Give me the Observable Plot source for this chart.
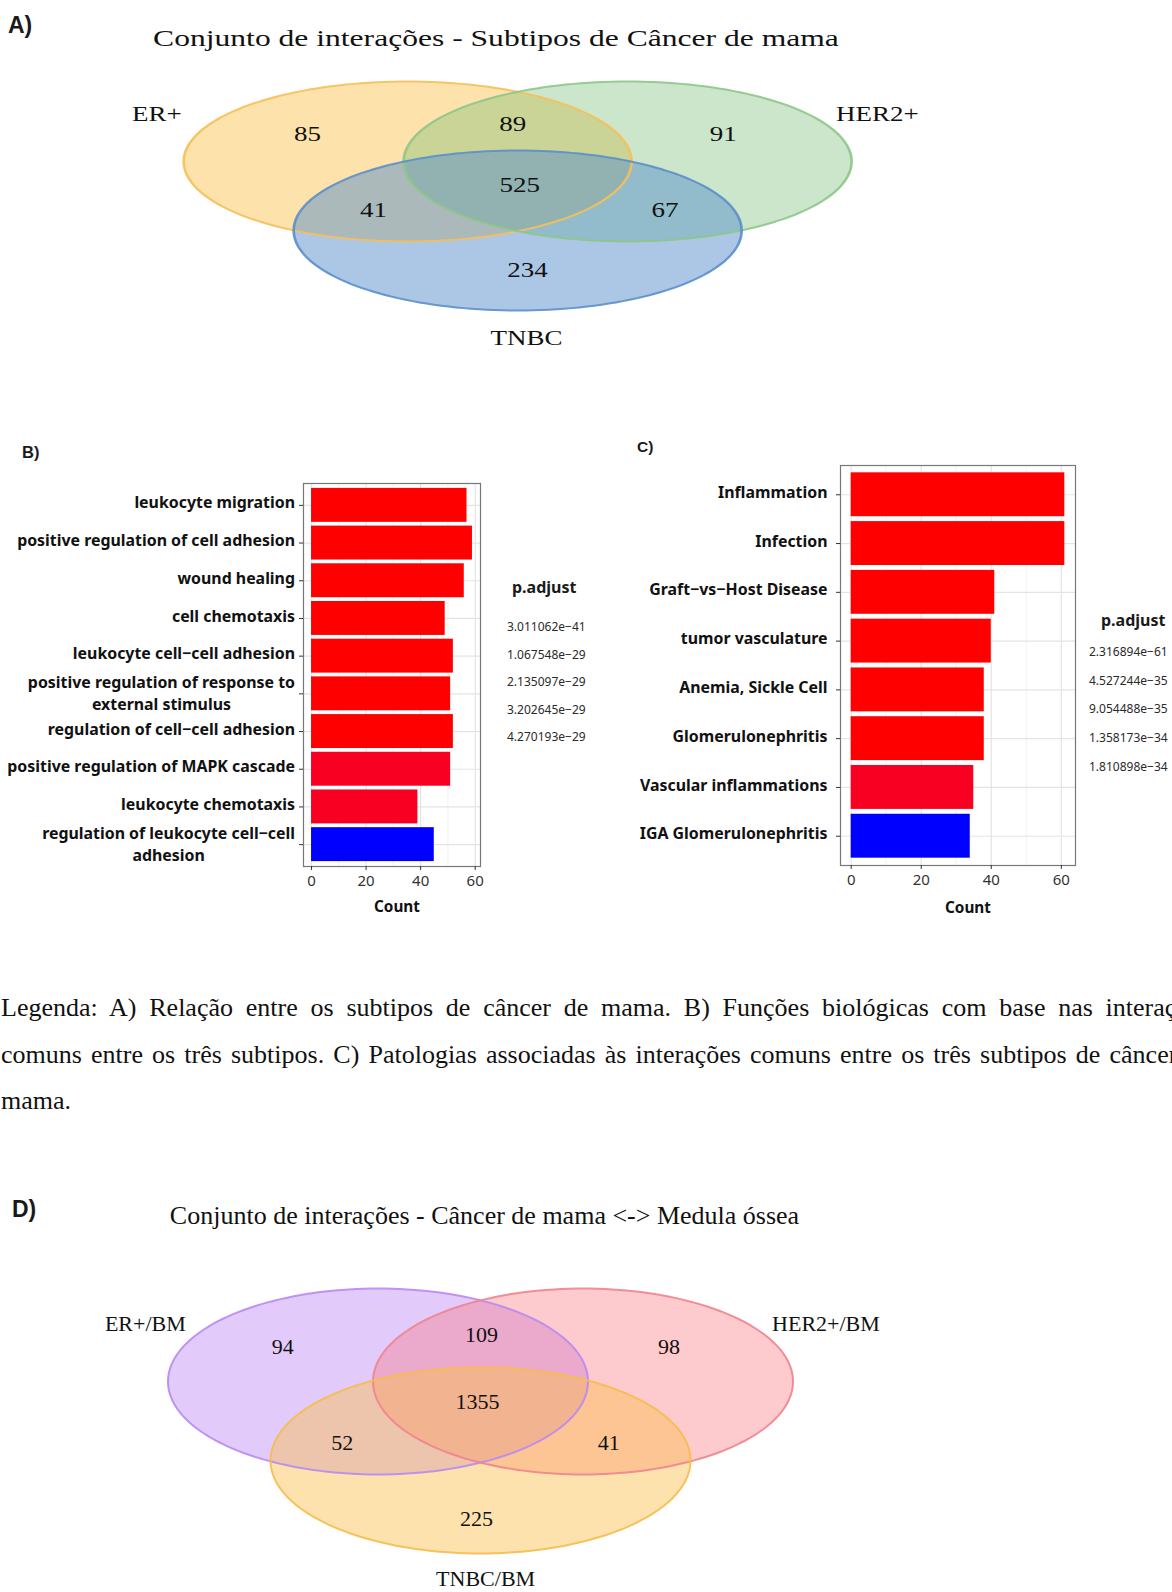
<!DOCTYPE html>
<html lang="pt"><head><meta charset="utf-8"><title>Conjunto de interações</title>
<script src="https://cdn.jsdelivr.net/npm/d3@7"></script>
<script src="https://cdn.jsdelivr.net/npm/@observablehq/plot@0.6"></script>
<style>
html,body{margin:0;padding:0;background:#fff;overflow:hidden;}
#page{position:relative;width:1172px;height:1592px;overflow:hidden;background:#fff;}
.abs{position:absolute;}
.tag{font-family:"Liberation Sans",Arial,sans-serif;font-weight:bold;color:#1a1a1a;white-space:nowrap;}
.serif{font-family:"Liberation Serif","Times New Roman",serif;color:#111;white-space:nowrap;}
.leg{font-family:"Noto Sans",sans-serif;color:#1a1a1a;white-space:nowrap;}
.para{font-family:"Liberation Serif","Times New Roman",serif;color:#111;font-size:26px;line-height:46.5px;}
.para .j{text-align:justify;text-align-last:justify;}
</style></head><body><div id="page"></div>
<script>
// ---------------- DATA ----------------
const setsA = ["ER+", "HER2+", "TNBC"];
// regions: ER+ only, ER+∩HER2+, HER2+ only, all three, ER+∩TNBC, HER2+∩TNBC, TNBC only
const countsA = [85, 89, 91, 525, 41, 67, 234];
const setsD = ["ER+/BM", "HER2+/BM", "TNBC/BM"];
const countsD = [94, 109, 98, 1355, 52, 41, 225];

const termsB = ["leukocyte migration", "positive regulation of cell adhesion", "wound healing", "cell chemotaxis",
  "leukocyte cell−cell adhesion", "positive regulation of response to\nexternal stimulus", "regulation of cell−cell adhesion",
  "positive regulation of MAPK cascade", "leukocyte chemotaxis", "regulation of leukocyte cell−cell\nadhesion"];
const countB = [57, 59, 56, 49, 52, 51, 52, 51, 39, 45];
const padjB = [3.011062e-41, 2e-38, 1e-36, 5e-36, 2e-35, 6e-35, 1.5e-34, 3.1e-30, 3.2e-30, 4.4e-29];
const padjBreaksB = [3.011062e-41, 1.067548e-29, 2.135097e-29, 3.202645e-29, 4.270193e-29];

const termsC = ["Inflammation", "Infection", "Graft−vs−Host Disease", "tumor vasculature", "Anemia, Sickle Cell",
  "Glomerulonephritis", "Vascular inflammations", "IGA Glomerulonephritis"];
const countC = [61, 61, 41, 40, 38, 38, 35, 34];
const padjC = [2.316894e-61, 1e-52, 1e-46, 1e-43, 1e-41, 1e-39, 1.3e-35, 1.85e-34];
const padjBreaksC = [2.316894e-61, 4.527244e-35, 9.054488e-35, 1.358173e-34, 1.810898e-34];

const countTicks = [0, 20, 40, 60];
const countMinorTicks = [10, 30, 50];

const captionLines = [
  "Legenda: A) Relação entre os subtipos de câncer de mama. B) Funções biológicas com base nas interações",
  "comuns entre os três subtipos. C) Patologias associadas às interações comuns entre os três subtipos de câncer de",
  "mama."
];

// ---------------- LAYOUT (Venn geometry, abstract units) ----------------
const layoutA = {
  centers: [[-1, 0], [1, 0], [0, -0.8625]], rx: 2.036, ry: 1,
  regions: [[-1.91, 0.34], [-0.045, 0.46], [1.87, 0.34], [0.02, -0.30], [-1.31, -0.61], [1.34, -0.61], [0.09, -1.36]],
  labels: [[-3.28, 0.59], [3.27, 0.59], [0.08, -2.21]],
  x: [-4.70, 5.955], y: [-2.4875, 1.2625]
};
const layoutD = {
  centers: [[-1, 0], [1, 0], [0, -0.849]], rx: 2.049, ry: 1,
  regions: [[-1.93, 0.376], [0.01, 0.505], [1.84, 0.376], [-0.03, -0.215], [-1.35, -0.656], [1.25, -0.656], [-0.04, -1.473]],
  labels: [[-3.27, 0.624], [3.37, 0.624], [0.05, -2.125]],
  x: [-4.683, 6.751], y: [-2.269, 1.516]
};

// ---------------- HELPERS ----------------
const page = document.getElementById("page");
function put(node, left, top) {
  const w = document.createElement("div");
  w.className = "abs"; w.style.left = left + "px"; w.style.top = top + "px";
  w.appendChild(node); page.appendChild(w); return node;
}
function div(cls, html, css) {
  const d = document.createElement("div");
  d.className = "abs " + cls; d.innerHTML = html; Object.assign(d.style, css);
  page.appendChild(d); return d;
}
const ctx = document.createElement("canvas").getContext("2d");
function textWidth(s, font) { ctx.font = font; return ctx.measureText(s).width; }
const fmtP = v => d3.format(".6e")(v).replace("-", "−");
const SANS = '"Noto Sans", sans-serif';

function ellipsePoints([cx, cy], rx, ry) {
  return d3.range(0, 360, 2).map(a => {
    const t = a * Math.PI / 180;
    return {x: cx + rx * Math.cos(t), y: cy + ry * Math.sin(t)};
  });
}

function vennPlot({sets, counts, layout, fills, fillOpacity, strokes, width, height, fontSize}) {
  const shapes = sets.map((s, i) => ellipsePoints(layout.centers[i], layout.rx, layout.ry));
  const regionData = counts.map((n, i) => ({n, x: layout.regions[i][0], y: layout.regions[i][1]}));
  const labelData = sets.map((s, i) => ({s, x: layout.labels[i][0], y: layout.labels[i][1]}));
  return Plot.plot({
    width, height, margin: 0,
    x: {domain: layout.x, axis: null},
    y: {domain: layout.y, axis: null},
    style: {fontFamily: '"Liberation Serif", "Times New Roman", serif', background: "transparent", overflow: "visible"},
    marks: [
      ...shapes.map((pts, i) => Plot.line(pts, {x: "x", y: "y", curve: "linear-closed", fill: fills[i], fillOpacity: fillOpacity[i], stroke: "none"})),
      ...shapes.map((pts, i) => Plot.line(pts, {x: "x", y: "y", curve: "linear-closed", stroke: strokes[i], strokeWidth: 2, strokeOpacity: 0.9})),
      Plot.text(regionData, {x: "x", y: "y", text: d => String(d.n), fontSize, fill: "#111"}),
      Plot.text(labelData, {x: "x", y: "y", text: "s", fontSize, fill: "#111"})
    ]
  });
}

function barPanel({terms, counts, padj, width, height, margins, paddingOuter, labelGap, labelSize, countDx, countDy}) {
  const data = terms.map((term, i) => ({term, count: counts[i], p: padj[i]}));
  const maxC = d3.max(counts);
  const tick = 4;
  const font = `bold ${labelSize}px "Noto Sans"`;
  const single = terms.filter(t => !t.includes("\n"));
  const multi = terms.filter(t => t.includes("\n"));
  const labelMarks = [
    Plot.text(single, {y: d => d, text: d => d, frameAnchor: "left", textAnchor: "end", dx: -(tick + labelGap), dy: -2,
      fontSize: labelSize, fontWeight: "bold", fill: "#111"}),
    ...multi.map(t => {
      const w = d3.max(t.split("\n"), l => textWidth(l, font));
      return Plot.text([t], {y: d => d, text: d => d, frameAnchor: "left", textAnchor: "middle", dy: -2,
        dx: -(tick + labelGap) - w / 2, lineHeight: 1.4, fontSize: labelSize, fontWeight: "bold", fill: "#111"});
    })
  ];
  return Plot.plot({
    width, height, ...margins,
    x: {domain: [-0.05 * maxC, 1.05 * maxC]},
    y: {domain: terms, paddingInner: 0.1, paddingOuter, round: false},
    color: {type: "linear", domain: d3.extent(padj), range: ["red", "blue"], interpolate: "lab"},
    style: {fontFamily: SANS, background: "transparent", overflow: "visible"},
    marks: [
      Plot.gridX({ticks: countMinorTicks, stroke: "#ececec", strokeOpacity: 1, strokeWidth: 0.7}),
      Plot.gridX({ticks: countTicks, stroke: "#e4e4e4", strokeOpacity: 1, strokeWidth: 1.2}),
      Plot.gridY({stroke: "#e4e4e4", strokeOpacity: 1, strokeWidth: 1.2}),
      Plot.barX(data, {x: "count", y: "term", fill: "p"}),
      Plot.frame({stroke: "#777", strokeWidth: 1.2}),
      Plot.axisX({ticks: countTicks, tickSize: tick, tickPadding: 5, fontSize: 15, color: "#333", label: null}),
      Plot.axisY({tickSize: tick, tickFormat: () => "", color: "#333", label: null}),
      ...labelMarks,
      Plot.text(["Count"], {frameAnchor: "bottom", dx: countDx, dy: countDy, text: d => d, fontSize: 15.3, fontWeight: "bold", fill: "#111"})
    ]
  });
}

function pLegend({titleLeft, titleY, labelLeft, firstY, step, breaks}) {
  div("leg", "p.adjust", {left: titleLeft + "px", top: (titleY - 11) + "px", lineHeight: "22px", fontSize: "16px", fontWeight: "bold"});
  breaks.forEach((b, i) => div("leg", fmtP(b), {left: labelLeft + "px", top: (firstY + i * step - 8) + "px", lineHeight: "16px", fontSize: "12px", color: "#2a2a2a"}));
}

// ---------------- PANEL A ----------------
div("tag", "A)", {left: "8px", top: "11px", fontSize: "23px", lineHeight: "28px"});
const stretchA = 1.35;
div("serif", "Conjunto de interações - Subtipos de Câncer de mama",
  {left: "0px", width: "992px", textAlign: "center", top: "23px", fontSize: "23.4px", lineHeight: "30px",
   transform: `scaleX(${stretchA})`, transformOrigin: "496px 50%"});
const svgA = vennPlot({sets: setsA, counts: countsA, layout: layoutA,
  fills: ["#FBBF45", "#7DC07A", "#5A8FCB"], fillOpacity: [0.45, 0.4, 0.5],
  strokes: ["#F5C05A", "#8DC68A", "#5B8FCA"], width: 1172 / stretchA, height: 300, fontSize: 20});
svgA.setAttribute("width", 1172);
svgA.setAttribute("preserveAspectRatio", "none");
svgA.style.width = "1172px"; svgA.style.height = "300px"; svgA.style.maxWidth = "none";
put(svgA, 0, 60);

// ---------------- PANEL B ----------------
div("tag", "B)", {left: "22px", top: "442px", fontSize: "16.5px", lineHeight: "20px"});
put(barPanel({terms: termsB, counts: countB, padj: padjB, width: 620, height: 490,
  margins: {marginLeft: 303, marginRight: 140, marginTop: 53, marginBottom: 54}, paddingOuter: 0.13,
  labelGap: 4.5, labelSize: 15.9, countDx: 5, countDy: 45}), 0, 430);
pLegend({titleLeft: 512, titleY: 587, labelLeft: 507, firstY: 627, step: 27.5, breaks: padjBreaksB});

// ---------------- PANEL C ----------------
div("tag", "C)", {left: "637px", top: "437px", fontSize: "15.5px", lineHeight: "20px"});
put(barPanel({terms: termsC, counts: countC, padj: padjC, width: 552, height: 490,
  margins: {marginLeft: 220, marginRight: 97, marginTop: 35, marginBottom: 55}, paddingOuter: 0.15,
  labelGap: 9, labelSize: 15.9, countDx: 10, countDy: 47}), 620, 430);
pLegend({titleLeft: 1101, titleY: 620, labelLeft: 1089, firstY: 652, step: 28.7, breaks: padjBreaksC});

// ---------------- CAPTION ----------------
const para = div("para", "", {left: "1px", top: "985px", width: "1210px"});
captionLines.forEach((l, i) => {
  const d = document.createElement("div");
  if (i < captionLines.length - 1) d.className = "j";
  d.textContent = l; para.appendChild(d);
});

// ---------------- PANEL D ----------------
div("tag", "D)", {left: "12px", top: "1195px", fontSize: "23px", lineHeight: "28px"});
div("serif", "Conjunto de interações - Câncer de mama &lt;-&gt; Medula óssea",
  {left: "0px", width: "969px", textAlign: "center", top: "1201px", fontSize: "26px", lineHeight: "30px"});
put(vennPlot({sets: setsD, counts: countsD, layout: layoutD,
  fills: ["#B77BF5", "#FB7B85", "#FBBE4B"], fillOpacity: [0.4, 0.4, 0.45],
  strokes: ["#B98AF2", "#F0848E", "#F6BC4E"], width: 1172, height: 352, fontSize: 22}), 0, 1240);
</script></body></html>
